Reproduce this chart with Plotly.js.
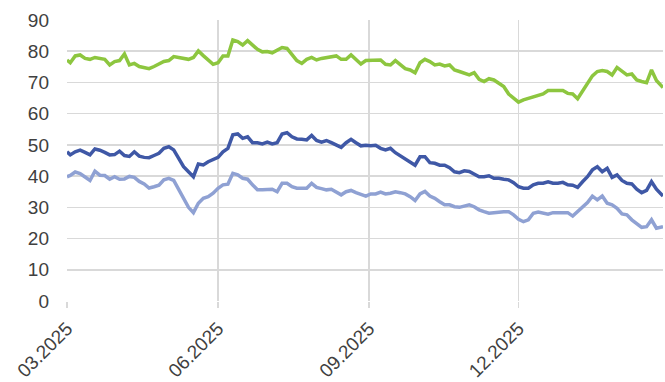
<!DOCTYPE html>
<html>
<head>
<meta charset="utf-8">
<script src="https://cdn.plot.ly/plotly-3.0.1.min.js"></script>
<style>
  html, body { margin: 0; padding: 0; background: #ffffff; }
  #chart { width: 665px; height: 382px; }
</style>
</head>
<body>
<div id="chart"></div>
<script>
const dates = [
  "2025-03-01","2025-03-03","2025-03-06","2025-03-09","2025-03-12","2025-03-15","2025-03-18","2025-03-21","2025-03-24","2025-03-27","2025-03-30",
  "2025-04-02","2025-04-05","2025-04-08","2025-04-11","2025-04-14","2025-04-17","2025-04-20","2025-04-23","2025-04-26","2025-04-29",
  "2025-05-02","2025-05-05","2025-05-08","2025-05-11","2025-05-14","2025-05-17","2025-05-20","2025-05-23","2025-05-26","2025-05-29",
  "2025-06-01","2025-06-04","2025-06-07","2025-06-10","2025-06-13","2025-06-16","2025-06-19","2025-06-22","2025-06-25","2025-06-28",
  "2025-07-01","2025-07-04","2025-07-07","2025-07-10","2025-07-13","2025-07-16","2025-07-19","2025-07-22","2025-07-25","2025-07-28","2025-07-31",
  "2025-08-03","2025-08-06","2025-08-09","2025-08-12","2025-08-15","2025-08-18","2025-08-21","2025-08-24","2025-08-27","2025-08-30",
  "2025-09-02","2025-09-05","2025-09-08","2025-09-11","2025-09-14","2025-09-17","2025-09-20","2025-09-23","2025-09-26","2025-09-29",
  "2025-10-02","2025-10-05","2025-10-08","2025-10-11","2025-10-14","2025-10-17","2025-10-20","2025-10-23","2025-10-26","2025-10-29",
  "2025-11-01","2025-11-04","2025-11-07","2025-11-10","2025-11-13","2025-11-16","2025-11-19","2025-11-22","2025-11-25","2025-11-28",
  "2025-12-01","2025-12-04","2025-12-07","2025-12-10","2025-12-13","2025-12-16","2025-12-19","2025-12-22","2025-12-25","2025-12-28","2025-12-31",
  "2026-01-03","2026-01-06","2026-01-09","2026-01-12","2026-01-15","2026-01-18","2026-01-21","2026-01-24","2026-01-27","2026-01-30",
  "2026-02-02","2026-02-05","2026-02-08","2026-02-11","2026-02-14","2026-02-17","2026-02-20","2026-02-23","2026-02-27"
];

const greenSeries = [
  77.2, 76.3, 78.5, 78.8, 77.7, 77.4, 78.0, 77.7, 77.4, 75.6, 76.7, 77.0, 79.1, 75.6, 76.1, 75.1, 74.8, 74.4, 75.1, 75.9,
  76.7, 77.0, 78.3, 78.0, 77.7, 77.4, 78.0, 80.1, 78.6, 77.2, 75.8, 76.3, 78.5, 78.5, 83.6, 83.1, 82.0, 83.4, 82.0, 80.6,
  79.8, 79.9, 79.5, 80.2, 81.2, 80.9, 78.8, 77.0, 76.1, 77.4, 78.0, 77.2, 77.7, 78.0, 78.3, 78.5, 77.4, 77.4, 78.8, 77.4,
  75.9, 77.0, 77.0, 77.0, 77.2, 75.8, 75.6, 77.0, 75.6, 74.4, 74.0, 73.1, 76.3, 77.4, 76.7, 75.6, 75.9, 75.3, 75.6, 74.0,
  73.5, 72.9, 72.4, 73.1, 71.0, 70.3, 71.2, 70.8, 69.7, 68.7, 66.3, 64.9, 63.7, 64.4, 64.9, 65.5, 66.0, 66.3, 67.4, 67.4,
  67.4, 67.4, 66.5, 66.3, 64.8, 67.1, 69.7, 72.1, 73.5, 73.8, 73.5, 72.4, 74.8, 73.5, 72.4, 72.7, 70.8, 70.3, 69.9, 74.0, 70.6, 68.4
];

const darkBlueSeries = [
  47.8, 46.8, 47.8, 48.3, 47.6, 46.8, 48.7, 48.3, 47.6, 46.8, 46.9, 48.0, 46.6, 46.3, 47.8, 46.4, 46.0, 45.9, 46.6, 47.3,
  48.9, 49.4, 48.4, 45.4, 43.0, 41.4, 39.8, 43.9, 43.6, 44.6, 45.2, 46.0, 47.8, 48.9, 53.2, 53.5, 52.1, 52.6, 50.7, 50.7,
  50.3, 50.9, 50.3, 50.7, 53.5, 53.9, 52.6, 51.9, 51.8, 51.6, 53.0, 51.4, 50.9, 51.4, 50.7, 50.0, 49.2, 50.7, 51.8, 50.7,
  49.7, 49.9, 49.7, 49.9, 48.9, 48.4, 48.9, 47.5, 46.5, 45.4, 44.6, 43.5, 46.2, 46.2, 44.3, 44.1, 43.5, 43.5, 42.7, 41.4,
  41.1, 41.7, 41.5, 40.7, 39.8, 39.8, 40.1, 39.3, 39.3, 39.0, 38.8, 37.9, 36.6, 36.1, 36.1, 37.2, 37.7, 37.7, 38.2, 37.7,
  37.7, 38.0, 37.2, 37.1, 36.4, 38.2, 39.8, 42.0, 43.0, 41.4, 42.5, 39.6, 40.4, 38.6, 37.7, 37.5, 35.8, 34.7, 35.4, 38.2, 35.8, 33.6
];

const lightBlueSeries = [
  39.8, 40.2, 41.3, 40.8, 39.7, 38.6, 41.6, 40.3, 40.2, 39.0, 39.8, 39.0, 39.1, 39.9, 39.6, 38.3, 37.5, 36.2, 36.6, 37.1,
  38.8, 39.3, 38.6, 35.6, 32.9, 30.0, 28.3, 31.3, 32.9, 33.4, 34.5, 36.1, 37.2, 37.4, 40.9, 40.4, 39.3, 39.0, 37.2, 35.6,
  35.6, 35.8, 35.8, 35.0, 37.7, 37.7, 36.6, 36.1, 36.1, 36.1, 37.7, 36.4, 36.0, 35.6, 35.8, 34.8, 34.0, 35.0, 35.4, 34.7,
  34.0, 33.6, 34.3, 34.3, 34.9, 34.3, 34.5, 35.0, 34.7, 34.3, 33.4, 32.2, 34.3, 35.1, 33.6, 32.9, 31.8, 30.8, 30.8, 30.2,
  30.0, 30.4, 30.8, 30.2, 29.2, 28.6, 28.1, 28.3, 28.5, 28.6, 28.6, 27.6, 26.2, 25.4, 26.0, 28.1, 28.5, 28.1, 27.8, 28.3,
  28.3, 28.1, 28.3, 27.2, 28.6, 30.0, 31.5, 33.6, 32.4, 33.6, 31.3, 30.8, 29.7, 27.9, 27.6, 26.0, 24.7, 23.6, 23.8, 26.0, 23.3, 23.8
];

const seriesColors = ["#8DC63F", "#3F58A6", "#8FA1D3"];

const traces = [
  { x: dates, y: greenSeries, type: "scatter", mode: "lines", line: { color: seriesColors[0], width: 3.5 }, hoverinfo: "skip" },
  { x: dates, y: darkBlueSeries, type: "scatter", mode: "lines", line: { color: seriesColors[1], width: 3.5 }, hoverinfo: "skip" },
  { x: dates, y: lightBlueSeries, type: "scatter", mode: "lines", line: { color: seriesColors[2], width: 3.5 }, hoverinfo: "skip" }
];

const layout = {
  width: 665, height: 382,
  margin: { l: 67, r: 2, t: 20, b: 81, pad: 0 },
  paper_bgcolor: "#ffffff", plot_bgcolor: "#ffffff",
  showlegend: false,
  font: { family: "Liberation Sans, Arial, sans-serif", size: 19, color: "#404040" },
  xaxis: {
    type: "date",
    range: ["2025-03-01", "2026-02-27"],
    tick0: "2025-03-01", dtick: "M3",
    tickformat: "%m.%Y",
    tickangle: -45,
    showgrid: true, gridcolor: "#d9d9d9", gridwidth: 1.5,
    ticks: "outside", ticklen: 6, tickcolor: "#d9d9d9", tickwidth: 1.5,
    ticklabelstandoff: 2,
    zeroline: false, showline: false,
    tickfont: { size: 19, color: "#404040" }
  },
  yaxis: {
    range: [0, 90], dtick: 10,
    showgrid: true, gridcolor: "#d9d9d9", gridwidth: 1.5,
    zeroline: false, showline: false,
    ticks: "", ticklabelstandoff: 17,
    tickfont: { size: 19, color: "#404040" }
  }
};

Plotly.newPlot("chart", traces, layout, { displayModeBar: false, staticPlot: true });
</script>
</body>
</html>
